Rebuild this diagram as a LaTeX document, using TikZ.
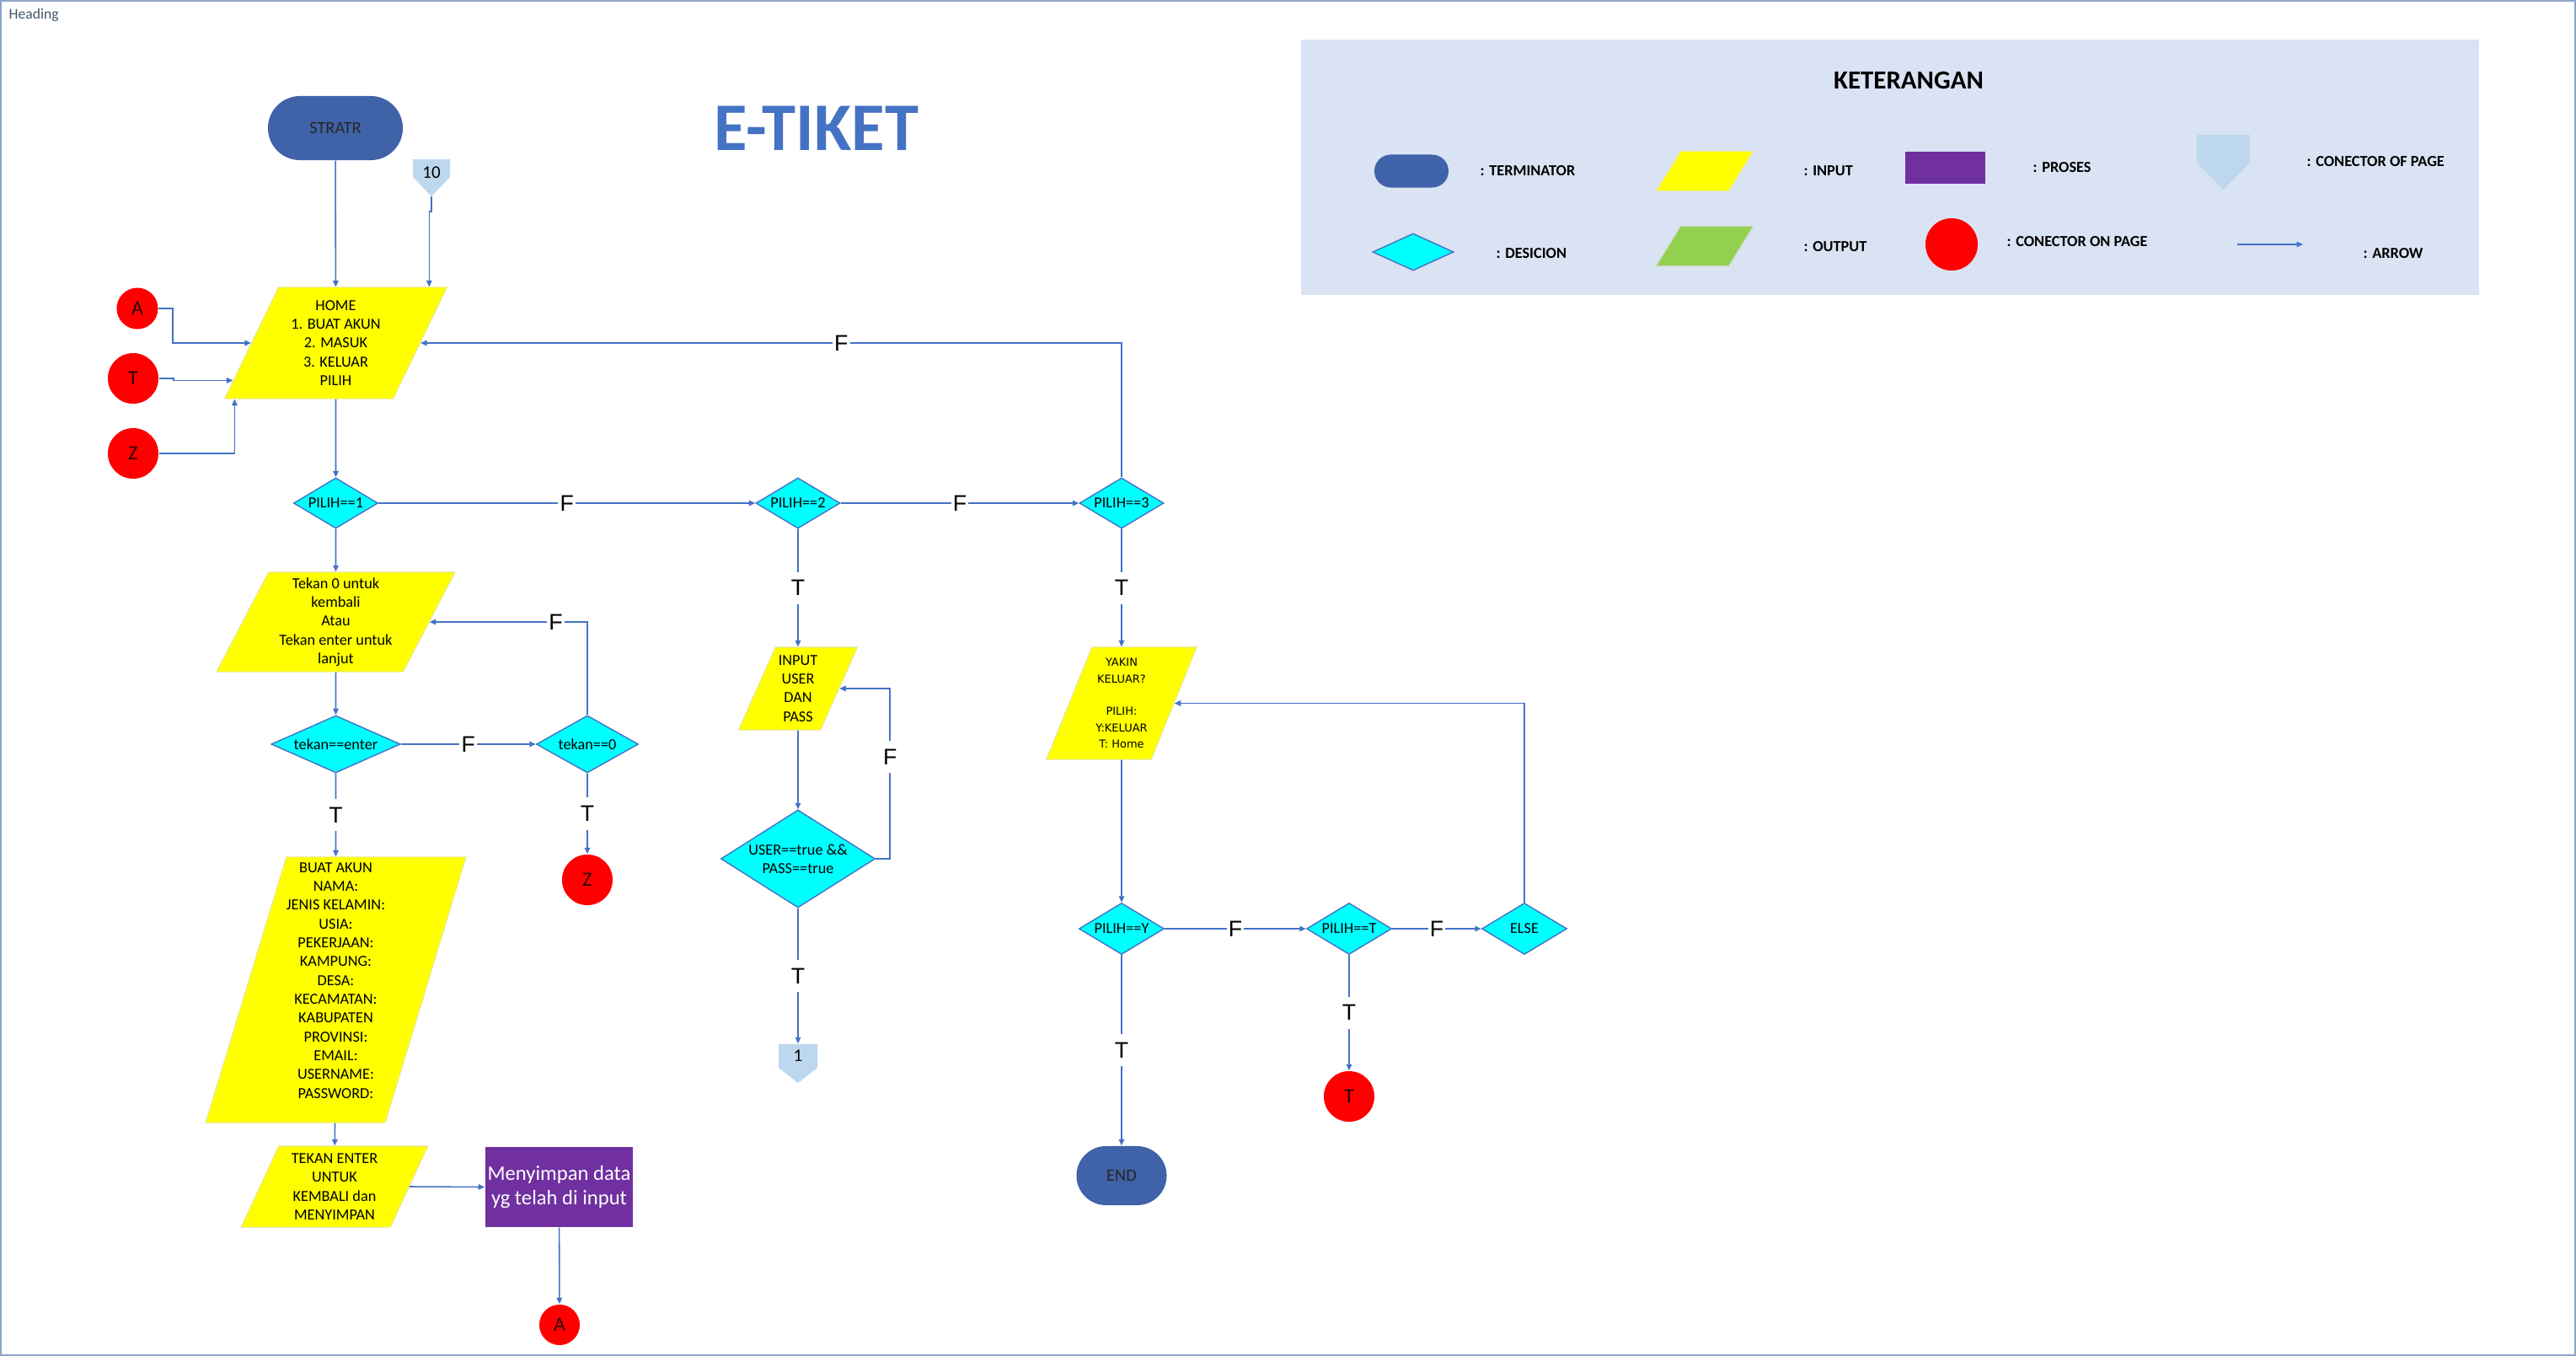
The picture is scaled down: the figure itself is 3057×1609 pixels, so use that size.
\documentclass[tikz,border=0pt]{standalone}
\usepackage{fontspec}
\setmainfont{Carlito}
\newfontfamily\labfont{Liberation Sans}
\newfontfamily\smallfont{DejaVu Sans}
\usetikzlibrary{shapes.geometric,shapes.misc,arrows.meta}
\definecolor{lineblue}{HTML}{4472C4}
\definecolor{termblue}{HTML}{3F62A8}
\definecolor{offblue}{HTML}{BDD7EE}
\definecolor{procpurple}{HTML}{7030A0}
\definecolor{outgreen}{HTML}{92D050}
\definecolor{legendbg}{HTML}{DAE3F3}
\definecolor{headgray}{HTML}{44546A}
\definecolor{framegray}{HTML}{8EA4C8}
\definecolor{desccyan}{HTML}{00FFFF}
\definecolor{inyellow}{HTML}{FFFF00}
\definecolor{connred}{HTML}{FF0000}

\begin{document}
\begin{tikzpicture}[x=0.01cm, y=-0.01cm,
    every node/.style={font=\fontsize{5.2}{6.35}\selectfont, inner sep=0pt},
    term/.style={rounded rectangle, fill=termblue, text=black!85, font=\fontsize{5.8}{7}\selectfont},
    inbox/.style={trapezium, trapezium stretches=true, fill=inyellow, draw=inyellow!60!gray!50, line width=0.3pt, align=center},
    desc/.style={diamond, aspect=2, fill=desccyan, draw=lineblue, line width=0.4pt, align=center},
    conn/.style={circle, fill=connred, text=black!85!red, font=\fontsize{6.8}{8}\selectfont},
    offpage/.style={fill=offblue},
    offtext/.style={font=\fontsize{6}{7}\selectfont},
    proc/.style={rectangle, fill=procpurple},
    arr/.style={draw=lineblue, line width=0.45pt, -{Triangle[length=0.075cm, width=0.065cm]}},
    lab/.style={fill=white, font=\labfont\fontsize{7.6}{8}\selectfont, inner xsep=0.6pt, inner ysep=2.8pt},
    keytext/.style={anchor=west, font=\bfseries\fontsize{5.2}{6}\selectfont}]

    % page frame
    \useasboundingbox (0, 0) rectangle (3057, 1609);
    \draw[framegray, line width=0.6pt] (1, 1) rectangle (3056, 1608);
    \node[anchor=west, text=headgray, font=\fontsize{5}{6}\selectfont] (heading) at (10, 18) {Heading};
    \node[text=lineblue, font=\bfseries\fontsize{23}{27}\selectfont] (title) at (969, 152) {E-TIKET};

    % start and home menu
    \node[term, minimum width=1.6cm, minimum height=0.76cm] (start) at (398, 152) {STRATR};
    \fill[offpage] (490, 189) -- (534, 189) -- (534, 210) -- (512, 233) -- (490, 210) -- cycle;
    \node[offtext] (c10) at (512, 205) {10};
    \coordinate (c10tip) at (512, 233);
    \node[inbox, trapezium left angle=63.8, trapezium right angle=116.2, minimum width=2.65cm, minimum height=1.32cm] (home) at (398.5, 407) {HOME\\1. BUAT AKUN\\2. MASUK\\3. KELUAR\\PILIH};
    \node[conn, minimum size=0.49cm] (cA) at (163, 366) {A};
    \node[conn, minimum size=0.6cm] (cT) at (158, 449) {T};
    \node[conn, minimum size=0.6cm] (cZ) at (158, 538) {Z};

    \draw[arr] (start) -- (home);
    \draw[arr] (c10tip) -- ++(0, 18) -| (home.31.5);
    \draw[arr] (cA.east) -- ++(17, 0) |- (home.left side);
    \draw[arr] (cT.east) -- ++(17, 0) |- (home.200.2);
    \draw[arr] (cZ.east) -| (home.209.1);

    % menu choices
    \node[desc, minimum width=1cm, minimum height=0.6cm] (p1) at (398.5, 597) {PILIH==1};
    \node[desc, minimum width=1cm, minimum height=0.6cm] (p2) at (947, 597) {PILIH==2};
    \node[desc, minimum width=1cm, minimum height=0.6cm] (p3) at (1331, 597) {PILIH==3};

    \draw[arr] (home) -- (p1);
    \draw[arr] (p1) -- node[lab] {F} (p2);
    \draw[arr] (p2) -- node[lab] {F} (p3);
    \draw[arr] (p3.north) |- node[lab, pos=0.7] {F} (home.right side);

    % 1: buat akun
    \node[inbox, trapezium left angle=63.8, trapezium right angle=116.2, minimum width=2.83cm, minimum height=1.18cm] (tekan) at (398.5, 738) {Tekan 0 untuk\\kembali\\Atau\\Tekan enter untuk\\lanjut};
    \node[desc, aspect=2.2, minimum width=1.53cm, minimum height=0.68cm] (tenter) at (398.5, 883) {tekan==enter};
    \node[desc, minimum width=1.21cm, minimum height=0.68cm] (tnol) at (697, 883) {tekan==0};
    \node[conn, minimum size=0.6cm] (cZ2) at (697, 1044) {Z};
    \node[inbox, trapezium left angle=72.4, trapezium right angle=107.6, minimum width=3.03cm, minimum height=3.15cm] (buat) at (398.5, 1174.5) {BUAT AKUN\\NAMA:\\JENIS KELAMIN:\\USIA:\\PEKERJAAN:\\KAMPUNG:\\DESA:\\KECAMATAN:\\KABUPATEN\\PROVINSI:\\EMAIL:\\USERNAME:\\PASSWORD:\\~};
    \node[inbox, trapezium left angle=66.4, trapezium right angle=113.6, minimum width=2.22cm, minimum height=0.96cm] (tent) at (397, 1408) {TEKAN ENTER\\UNTUK\\KEMBALI dan\\MENYIMPAN};
    \node[proc, minimum width=1.75cm, minimum height=0.95cm, text=white, align=center, font=\fontsize{7}{8.2}\selectfont] (simpan) at (663.5, 1408.5) {Menyimpan data\\yg telah di input};
    \node[conn, minimum size=0.48cm] (cA2) at (664, 1572) {A};

    \draw[arr] (p1) -- (tekan);
    \draw[arr] (tekan) -- (tenter);
    \draw[arr] (tenter) -- node[lab] {F} (tnol);
    \draw[arr] (tnol.north) |- node[lab, pos=0.6] {F} (tekan.right side);
    \draw[arr] (tenter) -- node[lab] {T} (buat);
    \draw[arr] (tnol) -- node[lab] {T} (cZ2);
    \draw[arr] (buat) -- (tent);
    \draw[arr] (tent.right side) -- (simpan.west);
    \draw[arr] (simpan) -- (cA2);

    % 2: masuk
    \node[inbox, trapezium left angle=64.4, trapezium right angle=115.6, minimum width=1.41cm, minimum height=0.98cm] (input) at (947, 817) {INPUT\\USER\\DAN\\PASS};
    \node[desc, aspect=1.6, minimum width=1.83cm, minimum height=1.16cm] (user) at (947, 1019) {USER==true \&\&\\PASS==true};
    \fill[offpage] (924, 1239) -- (970, 1239) -- (970, 1267) -- (947, 1285) -- (924, 1267) -- cycle;
    \node[offtext, minimum width=0.46cm, minimum height=0.28cm] (c1) at (947, 1253) {1};

    \draw[arr] (p2) -- node[lab] {T} (input);
    \draw[arr] (input) -- (user);
    \draw[arr] (user.east) -- ++(17, 0) |- node[lab, pos=0.3] {F} (input.right side);
    \draw[arr] (user) -- node[lab] {T} (c1.north);

    % 3: keluar
    \node[inbox, trapezium left angle=66.1, trapezium right angle=113.9, minimum width=1.79cm, minimum height=1.33cm, font=\smallfont\fontsize{3.7}{5.5}\selectfont] (yakin) at (1331, 834.5) {YAKIN\\KELUAR?\\[5.5pt]PILIH:\\Y:KELUAR\\T: Home};
    \node[desc, minimum width=1.01cm, minimum height=0.61cm] (py) at (1331, 1102) {PILIH==Y};
    \node[desc, minimum width=1.01cm, minimum height=0.61cm] (pt) at (1601, 1102) {PILIH==T};
    \node[desc, minimum width=1.01cm, minimum height=0.61cm] (pelse) at (1809, 1102) {ELSE};
    \node[term, minimum width=1.07cm, minimum height=0.7cm] (finish) at (1331, 1395) {END};
    \node[conn, minimum size=0.6cm] (cT2) at (1601, 1301) {T};

    \draw[arr] (p3) -- node[lab] {T} (yakin);
    \draw[arr] (yakin) -- (py);
    \draw[arr] (py) -- node[lab] {F} (pt);
    \draw[arr] (pt) -- node[lab] {F} (pelse);
    \draw[arr] (pelse.north) |- (yakin.right side);
    \draw[arr] (py) -- node[lab] {T} (finish);
    \draw[arr] (pt) -- node[lab] {T} (cT2);

    % legend
    \node[fill=legendbg, minimum width=13.98cm, minimum height=3.03cm] (legend) at (2243, 198.5) {};
    \node[font=\bfseries\fontsize{8.8}{10}\selectfont] (keterangan) at (2265, 95) {KETERANGAN};
    \node[term, inner sep=1pt, minimum width=0.95cm, minimum height=0.39cm] (kterm) at (1675, 203) {};
    \node[keytext] (ktermtxt) at (1756, 203) {: TERMINATOR};
    \node[inbox, inner sep=1pt, trapezium left angle=63, trapezium right angle=117, minimum width=1.15cm, minimum height=0.47cm] (kin) at (2023, 203) {};
    \node[keytext] (kintxt) at (2140, 203) {: INPUT};
    \node[proc, minimum width=0.95cm, minimum height=0.37cm] (kproc) at (2308, 199) {};
    \node[keytext] (kproctxt) at (2412, 199) {: PROSES};
    \fill[offpage] (2607, 160) -- (2670, 160) -- (2670, 193) -- (2638.5, 225) -- (2607, 193) -- cycle;
    \node[keytext] (kofftxt) at (2737, 192) {: CONECTOR OF PAGE};
    \node[desc, inner sep=1pt, minimum width=0.96cm, minimum height=0.44cm] (kdesc) at (1677, 299) {};
    \node[keytext] (kdesctxt) at (1775, 301) {: DESICION};
    \node[inbox, inner sep=1pt, fill=outgreen, draw=outgreen!70!gray!50, trapezium left angle=63, trapezium right angle=117, minimum width=1.15cm, minimum height=0.47cm] (kout) at (2023, 292) {};
    \node[keytext] (kouttxt) at (2140, 293) {: OUTPUT};
    \node[conn, minimum size=0.62cm] (kconn) at (2316, 290) {};
    \node[keytext] (kconntxt) at (2381, 287) {: CONECTOR ON PAGE};
    \coordinate (karrowA) at (2655, 290);
    \coordinate (karrowB) at (2733, 290);
    \draw[arr, line width=0.8pt] (karrowA) -- (karrowB);
    \node[keytext] (karrowtxt) at (2804, 301) {: ARROW};
\end{tikzpicture}
\end{document}
